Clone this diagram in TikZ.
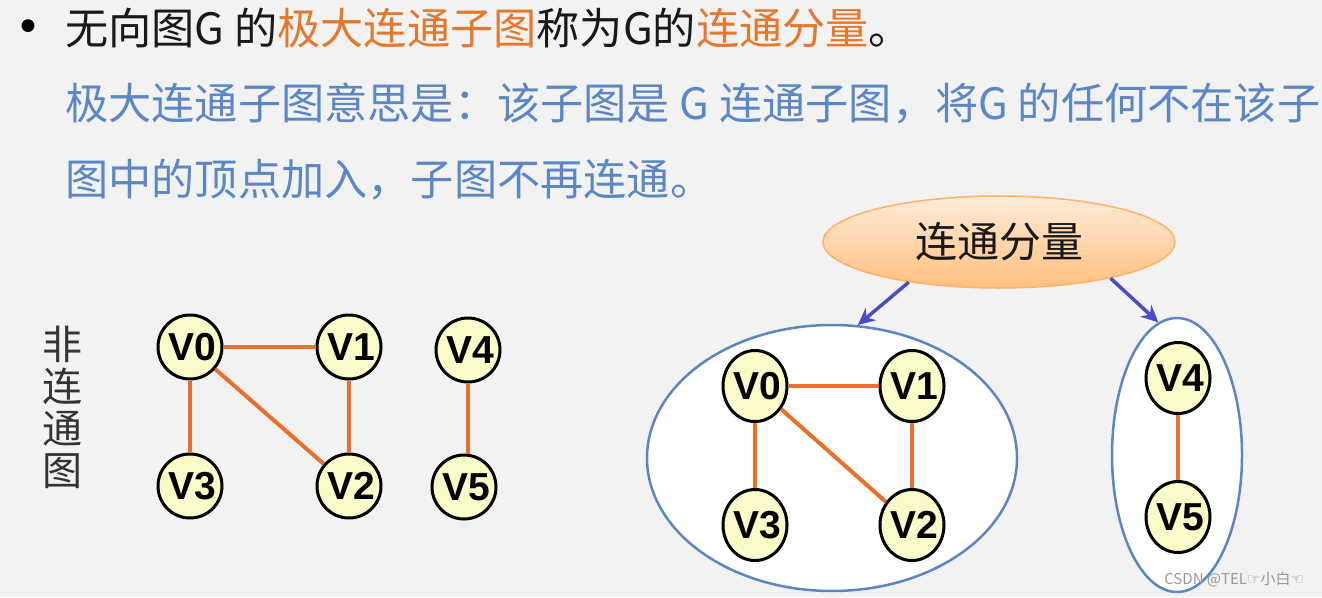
\documentclass[tikz,border=0pt]{standalone}
\usepackage{fontspec}
\usetikzlibrary{arrows.meta, shapes.geometric, positioning}

\newfontfamily\cjk{Noto Sans CJK SC}
\newfontfamily\lab{Liberation Sans}
\newfontfamily\sym{DejaVu Sans}

\definecolor{bg}{HTML}{F2F2F2}
\definecolor{txtblue}{HTML}{5B88C4}
\definecolor{txtorange}{HTML}{E2792F}
\definecolor{edgeorange}{HTML}{E8702A}
\definecolor{vtxfill}{HTML}{FBFBC9}
\definecolor{ringblue}{HTML}{5B86C0}
\definecolor{arrowblue}{HTML}{4B4BC2}

% zero width label, pushed a bit to the right like the slide
\newcommand\vname[1]{\makebox[0pt]{\hspace{5pt}#1}}

\begin{document}
\begin{tikzpicture}[
            x = 1pt, y = -1pt, % pixel like units, y going down
            > = {Stealth[length=17pt, width=16pt]}, % arrow head style
            semithick, % line style
            node distance = 139pt % V0 to V3
        ]

        \tikzstyle{vertex}=[
            circle,
            draw = black,
            line width = 3pt,
            fill = vtxfill,
            minimum size = 64pt,
            inner sep = 0pt,
            font = \lab\bfseries\fontsize{39}{39}\selectfont
        ]
        \tikzstyle{vertexe}=[
            vertex,
            ellipse,
            minimum width = 64pt,
            minimum height = 71pt
        ]
        \tikzstyle{edge}=[draw = edgeorange, line width = 4pt]
        \tikzstyle{ring}=[ellipse, draw = ringblue, line width = 2.5pt, fill = white]
        \tikzstyle{pointer}=[->, draw = arrowblue, line width = 3.5pt]
        \tikzstyle{textline}=[anchor = base west, inner sep = 0pt, font = \cjk\fontsize{43.2}{43.2}\selectfont]

    \fill[bg] (0,0) rectangle (1322,597);

    % text on top
	\node[inner sep = 0pt, font = \sym\fontsize{44}{44}\selectfont] (bullet) at (28,31) {•};
	\node[textline, text = black!90] (line1) at (65,44)
	    {无向图G 的\textcolor{txtorange}{极大连通子图}称为G的\textcolor{txtorange}{连通分量}。};
	\node[textline, text = txtblue] (line2) at (65,119)
	    {极大连通子图意思是：该子图是 G 连通子图，将G 的任何不在该子};
	\node[textline, text = txtblue] (line3) at (65,195)
	    {图中的顶点加入，子图不再连通。};

    % left: the graph that is not connected
	\node[align = center, text = black!80, font = \cjk\fontsize{40}{42}\selectfont] (side) at (62,407)
	    {非\\连\\通\\图};
	\node[vertex] (l0) at (190,347) {\vname{V0}};
	\node[vertex] (l3) [below of=l0] {\vname{V3}};
	\node[vertex] (l1) [right of=l0, node distance = 159pt] {\vname{V1}};
	\node[vertex] (l2) [below of=l1] {\vname{V2}};
	\node[vertex] (l4) at (468,350) {\vname{V4}};
	\node[vertex] (l5) at (464,487) {\vname{V5}};

	\path[edge] (l0) edge (l1);
	\path[edge] (l0) edge (l3);
	\path[edge] (l0) edge (l2);
	\path[edge] (l1) edge (l2);
	\path[edge] (l4) edge (l4 |- l5.north);

    % right: its two components
	\node[ellipse, draw = orange!60, line width = 1.5pt, top color = orange!15, bottom color = orange!50,
	      minimum width = 352pt, minimum height = 92pt, text = black!90,
	      font = \cjk\fontsize{42}{42}\selectfont] (title) at (999,242) {连通分量};
	\node[ring, minimum width = 370pt, minimum height = 266pt] (compA) at (832,458) {};
	\node[ring, minimum width = 130pt, minimum height = 274pt] (compB) at (1177,455) {};

	\draw[pointer] (title.204) -- (compA.79);
	\draw[pointer] (title.342) -- (compB.98);

	\node[vertexe] (r0) at (755,386) {\vname{V0}};
	\node[vertexe] (r3) [below of=r0] {\vname{V3}};
	\node[vertexe] (r1) [right of=r0, node distance = 157pt] {\vname{V1}};
	\node[vertexe] (r2) [below of=r1] {\vname{V2}};
	\node[vertexe] (r4) at (1178,378) {\vname{V4}};
	\node[vertexe] (r5) [below of=r4] {\vname{V5}};

	\path[edge] (r0) edge (r1);
	\path[edge] (r0) edge (r3);
	\path[edge] (r0) edge (r2);
	\path[edge] (r1) edge (r2);
	\path[edge] (r4) edge (r5);

	\node[anchor = base west, inner sep = 0pt, text = black!40, font = \cjk\fontsize{15}{15}\selectfont] (mark) at (1164,584)
	    {CSDN @TEL{\sym ☞}小白{\sym ☜}};

    \end{tikzpicture}
\end{document}
